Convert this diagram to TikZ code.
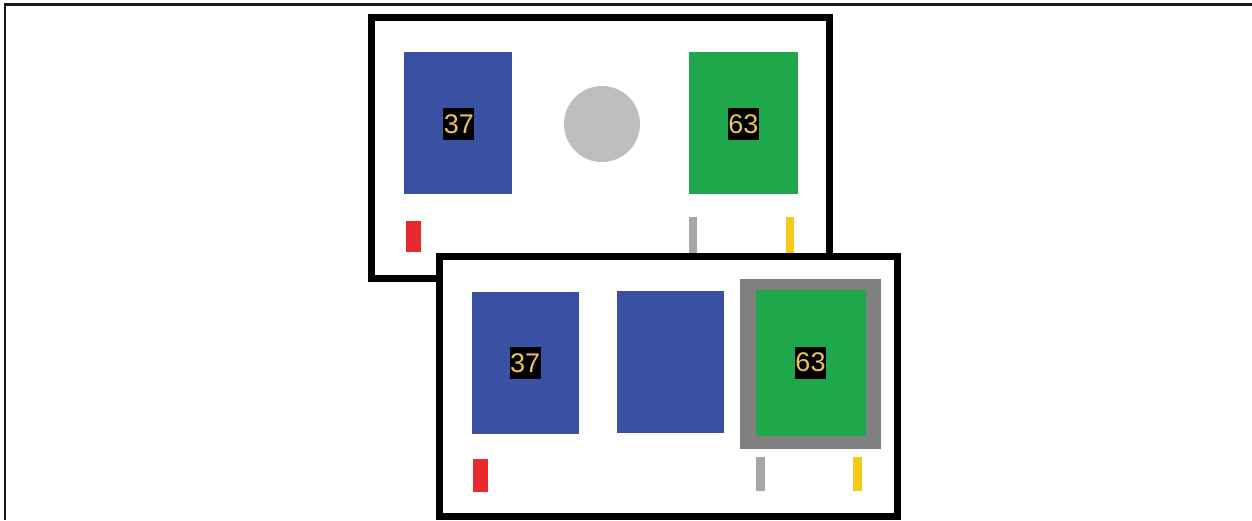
\documentclass[tikz,border=0pt]{standalone}
\usepackage{fontspec}
\setmainfont{Liberation Sans}
\definecolor{cblue}{HTML}{3A50A2}
\definecolor{cgreen}{HTML}{1EA84B}
\definecolor{cgold}{HTML}{EAC15A}
\definecolor{ccircle}{HTML}{BEBEBE}
\definecolor{cframe}{HTML}{808080}
\definecolor{ctick}{HTML}{A6A6A6}
\definecolor{cyellow}{HTML}{F7C919}
\definecolor{cred}{HTML}{E82A2E}
\begin{document}
\begin{tikzpicture}[x=1pt,y=-1pt,
  panel/.style={draw=black,fill=white,line width=7pt,inner sep=0pt,minimum width=457.5pt,minimum height=261pt},
  box/.style={fill=#1,inner sep=0pt},
  lbl/.style={fill=black,text=cgold,inner sep=0pt,minimum width=31pt,minimum height=32pt,font=\fontsize{27}{27}\selectfont},
  tick/.style={fill=#1,inner sep=0pt}]
\useasboundingbox (0,0) rectangle (1252,520);
% outer frame
\coordinate (fa) at (5,520);
\coordinate (fb) at (5,4.3);
\coordinate (fc) at (1252,4.3);
\draw[line width=2.8pt,black!90] (fa) -- (fb) -- (fc);
% top panel
\node[panel] (top) at (600.25,147.5) {};
\node[box=cblue,minimum width=107.4pt,minimum height=142.6pt] (tb) at (458,123) {};
\node[lbl] (tbl) at (458.8,124.2) {37};
\node[circle,fill=ccircle,inner sep=0pt,minimum size=76pt] (tc) at (602,124) {};
\node[box=cgreen,minimum width=108.4pt,minimum height=142pt] (tg) at (743.5,123.3) {};
\node[lbl] (tgl) at (743.4,124.2) {63};
\node[tick=cred,minimum width=15pt,minimum height=31.6pt] (tr) at (413.2,236.5) {};
\node[tick=ctick,minimum width=8.3pt,minimum height=36.3pt] (tt) at (693.2,234.8) {};
\node[tick=cyellow,minimum width=8.3pt,minimum height=36.3pt] (ty) at (789.8,234.8) {};
% bottom panel
\node[panel,minimum height=260pt] (bot) at (668.25,386.5) {};
\node[box=cblue,minimum width=106.7pt,minimum height=142pt] (bb1) at (525.65,362.7) {};
\node[lbl] (bbl) at (525.2,362.7) {37};
\node[box=cblue,minimum width=107pt,minimum height=142.6pt] (bb2) at (670.5,362) {};
\node[box=cframe,minimum width=141pt,minimum height=170pt] (bf) at (810.5,364) {};
\node[box=cgreen,minimum width=110pt,minimum height=145.7pt] (bg) at (811,362.9) {};
\node[lbl] (bgl) at (810.5,362.5) {63};
\node[tick=cred,minimum width=15pt,minimum height=33pt] (br) at (480.8,475.8) {};
\node[tick=ctick,minimum width=9.3pt,minimum height=34pt] (bt) at (760.4,473.7) {};
\node[tick=cyellow,minimum width=9.6pt,minimum height=34pt] (by) at (857.5,473.7) {};
\end{tikzpicture}
\end{document}
